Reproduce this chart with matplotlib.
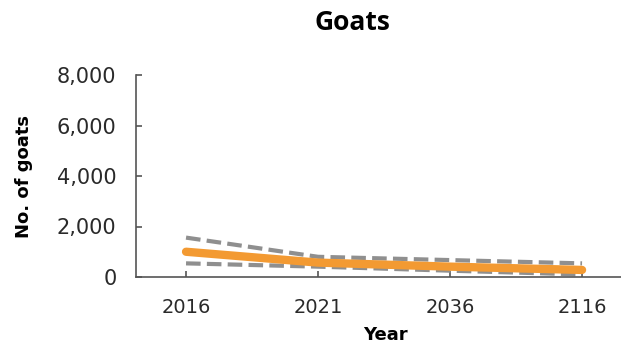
import matplotlib
matplotlib.use("Agg")
import matplotlib.pyplot as plt

years = ["2016", "2021", "2036", "2116"]
median = [1000, 570, 410, 280]
upper = [1560, 800, 670, 540]
lower = [540, 410, 250, 100]
yticks = [0, 2000, 4000, 6000, 8000]

plt.rcParams['font.family'] = ['DejaVu Sans']
fig = plt.figure(figsize=(6.21, 3.47), dpi=100)
ax = fig.add_axes([136/621, 1 - 277/347, 485/621, 202/347])

x = list(range(len(years)))
gray = "#8f8f8f"
ax.plot(x, upper, color=gray, lw=3, dashes=(3.5, 1.5))
ax.plot(x, lower, color=gray, lw=3, dashes=(3.5, 1.5))
ax.plot(x, median, color="#f39a32", lw=6, solid_capstyle='round')

ax.set_xlim(-0.379, 3.295)
ax.set_ylim(0, 8000)
ax.set_xticks(x)
ax.set_xticklabels(years)
ax.set_yticks(yticks)
ax.set_yticklabels([f"{v:,}" for v in yticks])

for s in ["top", "right"]:
    ax.spines[s].set_visible(False)
for s in ["left", "bottom"]:
    ax.spines[s].set_color("#555555")
    ax.spines[s].set_linewidth(1.2)
ax.tick_params(direction="in", length=4, width=1.2, color="#555555",
               labelcolor="#2a2a2a")
ax.tick_params(axis='x', labelsize=14, pad=15)
ax.tick_params(axis='y', labelsize=15, pad=14)

ax.set_xlabel("Year", fontsize=13, fontweight="bold")
ax.xaxis.set_label_coords((385 - 136) / 485, (277 - 335) / 202)
ax.xaxis.label.set_va("center")
ax.set_ylabel("No. of goats", fontsize=13, fontweight="bold")
ax.yaxis.set_label_coords((24 - 136) / 485, 0.5)
ax.yaxis.label.set_va("center")
fig.text(352/621, 1 - 23/347, "Goats", ha="center", va="center",
         fontsize=19, fontweight="bold", family=["Open Sans", "DejaVu Sans"])

fig.savefig("out.png", dpi=100)
